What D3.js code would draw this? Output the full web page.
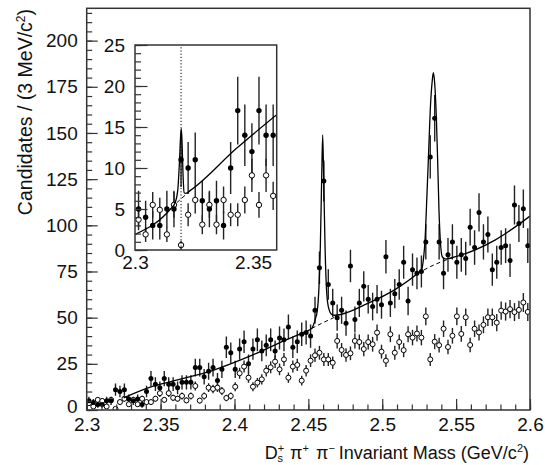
<!DOCTYPE html>
<head>
  <meta charset="utf-8">
  <title>Ds+ pi+ pi- invariant mass</title>
  <script src="https://cdn.jsdelivr.net/npm/d3@7/dist/d3.min.js"></script>
  <style>
    body{ margin:0; background:#fff; }
    svg{ display:block; }
    text{ font-family:"Liberation Sans", Arial, sans-serif; fill:#111; }
  </style>
</head>
<body>
<div id="chart"></div>
<script>
// histogram: 3 MeV bins from 2.3 GeV
const massLo = 2.3;
const binWidth = 0.003;

// right-sign candidates (filled points)
const filledCounts = [
  5,4,3,3,5,5,11,10,11,6,
  5,6,3,10,17,14,12,17,14,14,
  12,15,15,15,23,23,18,21,23,16,
  22,34,31,22,33,37,25,33,38,32,
  35,38,32,39,38,45,34,37,41,42,
  40,54,77,124,68,58,50,54,47,78,
  49,58,67,60,56,60,57,83,58,63,
  68,80,59,76,74,75,91,137,158,91,
  74,84,91,80,84,82,99,88,107,91,
  95,76,80,88,89,81,111,101,109,89
];

// sideband / wrong-sign (open points)
const openCounts = [
  3.7,1.9,5.5,4.9,1.9,5.5,0.6,4.3,6.1,3.1,
  5.5,3.1,6.1,4.3,4.3,6.1,9.1,5.5,9.1,6.6,
  6.1,7.6,5.2,7.6,13.0,5.1,7.6,12.1,11.4,12.1,
  10.3,6.5,7.6,12.6,19.9,23.5,17.5,12.6,14.8,16.6,
  21.3,23.1,26.2,22.0,27.4,17.5,23.5,24.4,15.9,21.3,
  26.7,29.6,31.0,27.4,27.4,25.6,37.4,32.5,29.8,30.7,
  37.4,36.8,33.0,36.8,35.6,41.9,31.6,26.7,41.0,31.0,
  36.8,32.4,41.0,39.2,41.4,39.2,50.7,27.4,37.0,35.1,
  44.0,34.1,40.2,50.7,41.2,50.2,35.2,44.0,42.0,46.1,
  50.2,50.2,47.3,53.8,53.3,54.6,53.0,54.2,58.2,53.1
];
const openErrScale = 0.45;

// fitted curve (mass, candidates)
const mainFit = [
  [2.325,6.6],[2.343,12.4],[2.36,16.0],[2.3855,21.5],[2.41,29.0],[2.435,38.0],
  [2.4477,42.3],[2.4523,44.2],[2.4545,48.7],[2.4561,54.1],[2.4572,66.8],[2.4581,88.4],
  [2.459,124.5],[2.4597,148.9],[2.4604,124.5],[2.4613,88.4],[2.4622,66.8],[2.4635,56.0],
  [2.4658,51.8],[2.468,51.3],[2.4906,57.9],[2.5086,65.2],[2.5240,74.0],[2.5267,76.0],
  [2.5278,81.2],[2.5289,91.1],[2.5303,117.3],[2.5312,135.4],[2.5325,162.4],[2.5339,178.7],
  [2.5346,182.6],[2.5355,176.9],[2.5366,158.8],[2.5375,135.4],[2.5384,108.3],[2.5393,92.0],
  [2.5406,83.0],[2.5425,81.8],[2.5504,83.2],[2.5763,92.0],[2.6,105.0]
];
const mainBkgA = [[2.4523,44.2],[2.460,47.3],[2.468,50.3]];
const mainBkgB = [[2.5240,74.0],[2.5357,78.8],[2.5425,81.0],[2.5504,83.2]];

const insetFit = [
  [2.3,1.9],[2.315,5.0],[2.3169,5.7],[2.3181,7.3],[2.3188,10.6],[2.3193,13.8],
  [2.3196,14.8],[2.3199,13.4],[2.3203,9.5],[2.3208,7.0],[2.3215,6.9],[2.3236,7.3],
  [2.343,12.4],[2.36,16.5]
];
const insetBkg = [[2.3155,5.2],[2.3236,7.3]];
const insetMarker = 2.3195;

const xMainTicks = [2.3,2.35,2.4,2.45,2.5,2.55,2.6];
const xMainLabels = ['2.3','2.35','2.4','2.45','2.5','2.55','2.6'];
const yMainTicks = [0,25,50,75,100,125,150,175,200];
const yMainLabels = ['0','25','50','75','100','125','150','175','200'];
const xInsetTicks = [2.3,2.35];
const xInsetLabels = ['2.3','2.35'];
const yInsetTicks = [0,5,10,15,20,25];
const yInsetLabels = ['0','5','10','15','20','25'];

const width = 545, height = 465;
const svg = d3.select('#chart').append('svg')
  .attr('width', width).attr('height', height);

const bins = filledCounts.map((n, i) => ({
  m: massLo + binWidth * (i + 0.5),
  n: n,
  o: openCounts[i]
}));

function panel(opts) {
  const x = d3.scaleLinear().domain(opts.xDomain).range([opts.left, opts.right]);
  const y = d3.scaleLinear().domain(opts.yDomain).range([opts.bottom, opts.top]);
  const g = svg.append('g');

  g.append('rect')
    .attr('x', opts.left).attr('y', opts.top)
    .attr('width', opts.right - opts.left).attr('height', opts.bottom - opts.top)
    .attr('fill', '#fff');

  const clipId = 'clip-' + opts.name;
  g.append('clipPath').attr('id', clipId).append('rect')
    .attr('x', opts.left).attr('y', opts.top)
    .attr('width', opts.right - opts.left).attr('height', opts.bottom - opts.top);

  const plot = g.append('g').attr('clip-path', `url(#${clipId})`);
  const data = bins.filter(d => d.m < opts.xDomain[1]);

  // error bars
  plot.selectAll('.eo').data(data).enter().append('line')
    .attr('x1', d => x(d.m)).attr('x2', d => x(d.m))
    .attr('y1', d => y(d.o + Math.sqrt(openErrScale * d.o)))
    .attr('y2', d => y(d.o - Math.sqrt(openErrScale * d.o)))
    .attr('stroke', '#222').attr('stroke-width', 1.4);
  plot.selectAll('.ef').data(data).enter().append('line')
    .attr('x1', d => x(d.m)).attr('x2', d => x(d.m))
    .attr('y1', d => y(d.n + Math.sqrt(d.n)))
    .attr('y2', d => y(d.n - Math.sqrt(d.n)))
    .attr('stroke', '#222').attr('stroke-width', 1.4);

  plot.selectAll('.po').data(data).enter().append('circle')
    .attr('cx', d => x(d.m)).attr('cy', d => y(d.o))
    .attr('r', opts.r).attr('fill', '#fff')
    .attr('stroke', '#000').attr('stroke-width', 1);
  plot.selectAll('.pf').data(data).enter().append('circle')
    .attr('cx', d => x(d.m)).attr('cy', d => y(d.n))
    .attr('r', opts.r).attr('fill', '#000');

  const line = d3.line().x(d => x(d[0])).y(d => y(d[1])).curve(d3.curveMonotoneX);
  opts.bkg.forEach(b => {
    plot.append('path').attr('d', line(b))
      .attr('fill', 'none').attr('stroke', '#000')
      .attr('stroke-width', 1).attr('stroke-dasharray', '4,3');
  });
  plot.append('path').attr('d', line(opts.fit))
    .attr('fill', 'none').attr('stroke', '#000').attr('stroke-width', 1.3);

  if (opts.marker) {
    plot.append('line')
      .attr('x1', x(opts.marker)).attr('x2', x(opts.marker))
      .attr('y1', y(opts.yDomain[0])).attr('y2', y(opts.yDomain[1]))
      .attr('stroke', '#000').attr('stroke-width', 1)
      .attr('stroke-dasharray', '1.2,2');
  }

  // axes: ticks point into the frame, labels outside
  const tickColor = '#333';
  if (opts.xMinor) {
    g.append('g').attr('transform', `translate(0,${opts.bottom})`)
      .call(d3.axisBottom(x).tickValues(opts.xMinor).tickSizeInner(-opts.minorLen)
        .tickSizeOuter(0).tickFormat(''))
      .call(a => a.select('.domain').remove())
      .style('color', tickColor);
  }
  g.append('g').attr('transform', `translate(0,${opts.bottom})`)
    .call(d3.axisBottom(x).tickValues(opts.xTicks).tickSizeInner(opts.xTickMajor ? -opts.majorLen : 0)
      .tickSizeOuter(0).tickPadding(opts.xPad).tickFormat((d, i) => opts.xLabels[i]))
    .call(a => a.select('.domain').remove())
    .call(a => a.selectAll('text').style('font-size', '19px').style('fill', '#111')
      .style('font-family', '"Liberation Sans", Arial, sans-serif'))
    .style('color', tickColor);

  g.append('g').attr('transform', `translate(${opts.left},0)`)
    .call(d3.axisLeft(y).tickValues(opts.yMinor).tickSizeInner(-opts.minorLen)
      .tickSizeOuter(0).tickFormat(''))
    .call(a => a.select('.domain').remove())
    .style('color', tickColor);
  g.append('g').attr('transform', `translate(${opts.left},0)`)
    .call(d3.axisLeft(y).tickValues(opts.yTicks).tickSizeInner(-opts.majorLen)
      .tickSizeOuter(0).tickPadding(opts.yPad).tickFormat((d, i) => opts.yLabels[i]))
    .call(a => a.select('.domain').remove())
    .call(a => a.selectAll('text').style('font-size', '19px').style('fill', '#111')
      .style('font-family', '"Liberation Sans", Arial, sans-serif'))
    .call(a => a.selectAll('.tick').filter(d => d === 0).select('text')
      .attr('dy', opts.zeroDy))
    .style('color', tickColor);

  g.selectAll('.tick line').attr('stroke-width', 1.2);

  g.append('rect')
    .attr('x', opts.left).attr('y', opts.top)
    .attr('width', opts.right - opts.left).attr('height', opts.bottom - opts.top)
    .attr('fill', 'none').attr('stroke', '#333').attr('stroke-width', 1.5);
}

panel({
  name: 'main', left: 86.7, right: 530, top: 8.3, bottom: 410,
  xDomain: [2.3, 2.6], yDomain: [0, 217.5], r: 2.5,
  xTicks: xMainTicks, xLabels: xMainLabels, xTickMajor: true,
  xMinor: d3.range(2.3, 2.6001, 0.01),
  yTicks: yMainTicks, yLabels: yMainLabels, yMinor: d3.range(0, 217, 5),
  majorLen: 11, minorLen: 5.5, xPad: 8, yPad: 9, zeroDy: '0.12em',
  fit: mainFit, bkg: [mainBkgA, mainBkgB]
});

panel({
  name: 'inset', left: 135, right: 276.7, top: 45, bottom: 250,
  xDomain: [2.3, 2.36], yDomain: [0, 25], r: 2.7,
  xTicks: xInsetTicks, xLabels: xInsetLabels, xTickMajor: false,
  yTicks: yInsetTicks, yLabels: yInsetLabels, yMinor: d3.range(0, 25.01, 1),
  majorLen: 12.5, minorLen: 6, xPad: 6, yPad: 10, zeroDy: '0.32em',
  fit: insetFit, bkg: [insetBkg], marker: insetMarker
});

// axis titles
const yt = svg.append('text')
  .attr('transform', 'translate(32,9) rotate(-90)')
  .attr('text-anchor', 'end')
  .style('font-size', '19.5px');
yt.append('tspan').text('Candidates / (3 MeV/c');
yt.append('tspan').attr('dy', -7).style('font-size', '12px').text('2');
yt.append('tspan').attr('dy', 7).text(')');

const xt = svg.append('text')
  .attr('x', 529).attr('y', 459)
  .attr('text-anchor', 'end')
  .style('font-size', '18px');
xt.append('tspan').text('D');
xt.append('tspan').attr('dy', -7).style('font-size', '11px').text('+');
xt.append('tspan').attr('dx', -6.5).attr('dy', 10).style('font-size', '11px').text('s');
xt.append('tspan').attr('dx', 7).attr('dy', -3).text('π');
xt.append('tspan').attr('dy', -7).style('font-size', '11px').text('+');
xt.append('tspan').attr('dx', 7).attr('dy', 7).text('π');
xt.append('tspan').attr('dy', -7).style('font-size', '11px').text('−');
xt.append('tspan').attr('dx', 4).attr('dy', 7).text('Invariant Mass (GeV/c');
xt.append('tspan').attr('dy', -7).style('font-size', '11px').text('2');
xt.append('tspan').attr('dy', 7).text(')');
</script>
</body>
